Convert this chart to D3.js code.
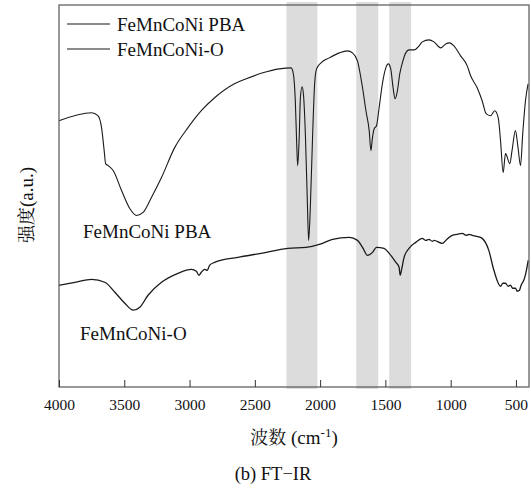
<!DOCTYPE html>
<html>
<head>
<meta charset="utf-8">
<script src="https://cdn.jsdelivr.net/npm/d3@7"></script>
</head>
<body style="margin:0; background:#fff">
<div id="chart"></div>
<script>
// wavenumber (cm-1), intensity (a.u.)
var pbaData = [
  [4000, 267], [3750, 275], [3702, 272], [3674, 260], [3654, 237], [3643, 224], [3623, 222],
  [3585, 217], [3521, 197], [3458, 179], [3406, 172], [3356, 175], [3292, 190], [3215, 210],
  [3114, 240], [3012, 260], [2910, 277], [2808, 290], [2656, 304], [2566, 309], [2439, 315],
  [2312, 319], [2222, 320], [2205, 314], [2190, 287], [2180, 247], [2172, 222], [2161, 247],
  [2151, 290], [2138, 301], [2128, 294], [2113, 254], [2098, 187], [2088, 147], [2075, 180],
  [2057, 254], [2042, 304], [2027, 319], [1993, 325], [1930, 330], [1853, 335], [1790, 337],
  [1752, 335], [1714, 327], [1675, 300], [1649, 277], [1624, 257], [1611, 237], [1599, 250],
  [1586, 259], [1568, 262], [1548, 280], [1523, 304], [1497, 320], [1477, 324], [1459, 319],
  [1441, 300], [1426, 289], [1408, 297], [1390, 314], [1370, 325], [1344, 335], [1319, 338],
  [1280, 338], [1242, 342], [1217, 346], [1166, 348], [1128, 346], [1077, 340], [1038, 344],
  [1008, 345], [975, 342], [924, 332], [873, 322], [847, 312], [797, 300], [759, 287],
  [728, 274], [695, 272], [662, 277], [636, 270], [618, 247], [598, 215], [580, 234],
  [547, 224], [530, 237], [504, 257], [484, 240], [465, 222], [448, 254], [427, 287], [407, 304]
];

var oxideData = [
  [4000, 102], [3878, 105], [3750, 108], [3649, 105], [3572, 95], [3496, 84], [3432, 77],
  [3381, 80], [3318, 92], [3215, 105], [3089, 114], [2986, 118], [2948, 116], [2928, 112],
  [2910, 115], [2885, 118], [2864, 117], [2847, 122], [2808, 125], [2630, 130], [2452, 134],
  [2248, 139], [2108, 140], [2006, 143], [1905, 148], [1777, 150], [1714, 147], [1675, 140],
  [1637, 132], [1599, 135], [1568, 140], [1510, 139], [1471, 134], [1420, 125], [1395, 120],
  [1387, 112], [1374, 119], [1357, 130], [1319, 139], [1268, 145], [1217, 149], [1190, 147],
  [1166, 148], [1140, 146], [1128, 147], [1064, 144], [1030, 148], [988, 152], [950, 153],
  [912, 154], [880, 152], [860, 153], [835, 152], [800, 151], [759, 149], [708, 137],
  [669, 117], [618, 101], [600, 104], [580, 104], [560, 101], [542, 102], [525, 99],
  [504, 99], [490, 96], [473, 97], [463, 101], [453, 104], [440, 107], [423, 115], [406, 127]
];

var series = [
  {name: "FeMnCoNi PBA", values: pbaData},
  {name: "FeMnCoNi-O", values: oxideData}
];

// highlighted wavenumber ranges
var bands = [[2258, 2021], [1723, 1555], [1471, 1303]];

var xTicks = [4000, 3500, 3000, 2500, 2000, 1500, 1000, 500];

var LATIN = "'Times New Roman'";
var CJK = "'Noto Serif CJK SC'";

var margin = {top: 5, right: 2, bottom: 101, left: 59},
    width = 531 - margin.left - margin.right,
    height = 488 - margin.top - margin.bottom;

var svg = d3.select("#chart")
    .append("svg")
    .attr("width", 531)
    .attr("height", 488)
    .append("g")
    .attr("transform", "translate(" + margin.left + "," + margin.top + ")");

var x = d3.scaleLinear()
    .domain([4000, 400])
    .range([0, width]);

var y = d3.scaleLinear()
    .domain([0, 383])
    .range([height, 0]);

// gray bands
svg.selectAll("rect.band")
    .data(bands)
    .enter()
    .append("rect")
    .attr("class", "band")
    .attr("x", function (d) { return x(d[0]); })
    .attr("width", function (d) { return x(d[1]) - x(d[0]); })
    .attr("y", -3)
    .attr("height", height + 5)
    .style("fill", "#dcdcdc");

// curves
var line = d3.line()
    .x(function (d) { return x(d[0]); })
    .y(function (d) { return y(d[1]); })
    .curve(d3.curveMonotoneX);

svg.selectAll("path.curve")
    .data(series)
    .enter()
    .append("path")
    .attr("class", "curve")
    .attr("d", function (d) { return line(d.values); })
    .style("fill", "none")
    .style("stroke", "#1a1a1a")
    .style("stroke-width", function (d, i) { return i == 0 ? 1.1 : 1.3; });

// frame
svg.append("rect")
    .attr("x", 0)
    .attr("y", 0)
    .attr("width", width)
    .attr("height", height)
    .style("fill", "none")
    .style("stroke", "#555")
    .style("stroke-width", 1.2);

// X axis, ticks inward
var xAxis = svg.append("g")
    .attr("transform", "translate(0," + height + ")")
    .call(d3.axisBottom(x).tickValues(xTicks).tickFormat(d3.format("d"))
        .tickSizeInner(-7).tickSizeOuter(0).tickPadding(12));
xAxis.attr("font-family", LATIN).attr("font-size", 15.5);
xAxis.select(".domain").remove();
xAxis.selectAll(".tick line").style("stroke", "#333");
xAxis.selectAll("text").attr("fill", "#111");

// axis labels
var xl = svg.append("text")
    .attr("x", width / 2)
    .attr("y", height + 57)
    .attr("text-anchor", "middle")
    .attr("font-family", LATIN)
    .attr("font-size", 19)
    .attr("fill", "#111");
xl.append("tspan").attr("font-family", CJK).attr("font-size", 18).text("波数");
xl.append("tspan").text(" (cm");
xl.append("tspan").attr("dy", -7).attr("font-size", 13).text("-1");
xl.append("tspan").attr("dy", 7).text(")");

svg.append("text")
    .attr("x", 214)
    .attr("y", height + 93)
    .attr("text-anchor", "middle")
    .attr("font-family", LATIN)
    .attr("font-size", 18.5)
    .attr("fill", "#111")
    .text("(b) FT\u2212IR");

var yl = svg.append("text")
    .attr("transform", "translate(-26," + 200 + ") rotate(-90)")
    .attr("text-anchor", "middle")
    .attr("font-family", LATIN)
    .attr("font-size", 19)
    .attr("fill", "#111");
yl.append("tspan").attr("font-family", CJK).attr("font-size", 18).text("强度");
yl.append("tspan").text("(a.u.)");

// curve labels
svg.append("text").attr("x", 24).attr("y", 233)
    .attr("font-family", LATIN).attr("font-size", 19).attr("fill", "#111")
    .text("FeMnCoNi PBA");
svg.append("text").attr("x", 21).attr("y", 335)
    .attr("font-family", LATIN).attr("font-size", 19).attr("fill", "#111")
    .text("FeMnCoNi-O");

// legend
var legend = svg.selectAll("g.legend")
    .data(series)
    .enter()
    .append("g")
    .attr("class", "legend")
    .attr("transform", function (d, i) { return "translate(8," + (19 + i * 25) + ")"; });

legend.append("line")
    .attr("x1", 0).attr("x2", 43)
    .attr("y1", 0).attr("y2", 0)
    .style("stroke", "#1a1a1a")
    .style("stroke-width", 1.1);

legend.append("text")
    .attr("x", 50)
    .attr("y", 7)
    .attr("font-family", LATIN)
    .attr("font-size", 19)
    .attr("fill", "#111")
    .text(function (d) { return d.name; });
</script>
</body>
</html>
